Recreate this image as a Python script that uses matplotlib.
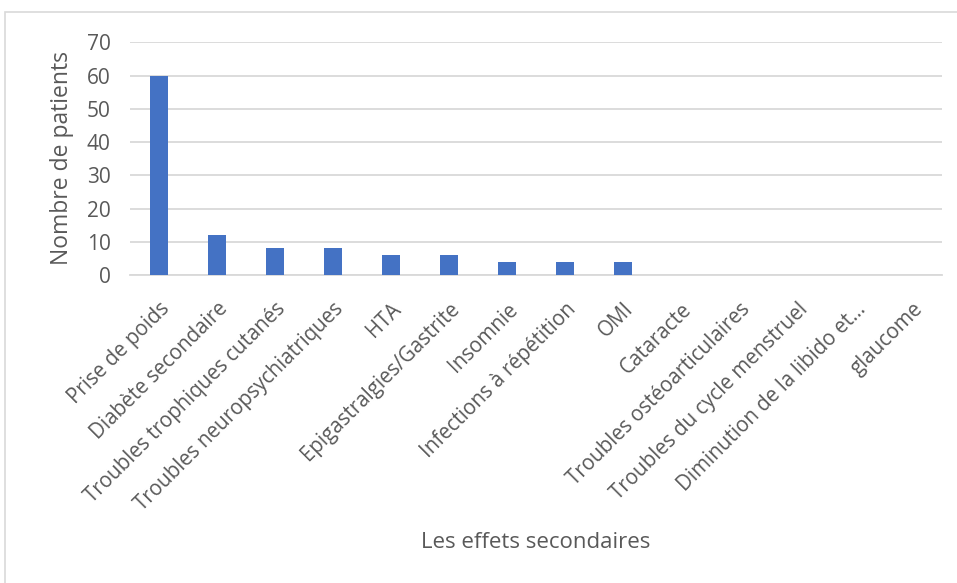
import matplotlib
matplotlib.use("Agg")
import matplotlib.pyplot as plt
from matplotlib.patches import Rectangle

categories = [
    "Prise de poids",
    "Diabète secondaire",
    "Troubles trophiques cutanés",
    "Troubles neuropsychiatriques",
    "HTA",
    "Epigastralgies/Gastrite",
    "Insomnie",
    "Infections à répétition",
    "OMI",
    "Cataracte",
    "Troubles ostéoarticulaires",
    "Troubles du cycle menstruel",
    "Diminution de la libido et…",
    "glaucome",
]
patients = [60, 12, 8, 8, 6, 6, 4, 4, 4, 0, 0, 0, 0, 0]
y_ticks = [0, 10, 20, 30, 40, 50, 60, 70]

W, H = 957, 583
plt.rcParams["font.family"] = ["Open Sans", "DejaVu Sans"]
text_color = "#595959"
grid_color = "#d9d9d9"

fig = plt.figure(figsize=(W / 100, H / 100), dpi=100)
fig.patch.set_facecolor("white")

# chart frame
fig.add_artist(Rectangle((5 / W, -0.1), 2.0, 1.1 - 12 / H,
                         transform=fig.transFigure, fill=False,
                         edgecolor=grid_color, linewidth=1.2))

left, right, top, bottom = 130, 942, 42.3, 275
ax = fig.add_axes([left / W, 1 - bottom / H, (right - left) / W, (bottom - top) / H])

x = range(len(categories))
ax.bar(x, patients, width=0.31, color="#4472C4", zorder=3)

ax.set_xlim(-0.5, len(categories) - 0.5)
ax.set_ylim(0, 70)
ax.set_yticks(y_ticks)
ax.yaxis.grid(True, color=grid_color, linewidth=1.3, zorder=0)
for s in ["top", "right", "left"]:
    ax.spines[s].set_visible(False)
ax.spines["bottom"].set_color(grid_color)
ax.spines["bottom"].set_linewidth(1.3)
ax.tick_params(axis="both", length=0, colors=text_color)
ax.tick_params(axis="y", pad=14, labelsize=15)
ax.tick_params(axis="x", pad=17)

ax.set_xticks(list(x))
ax.set_xticklabels(categories, rotation=45, ha="right", rotation_mode="anchor",
                   fontsize=14.8, color=text_color)

fig.text(62 / W, 1 - 158 / H, "Nombre de patients", rotation=90, ha="center",
         va="center", fontsize=16.5, color=text_color)
fig.text(536 / W, 1 - 543 / H, "Les effets secondaires", ha="center", va="center",
         fontsize=16, color=text_color)

fig.savefig("out.png", dpi=100, facecolor="white")
